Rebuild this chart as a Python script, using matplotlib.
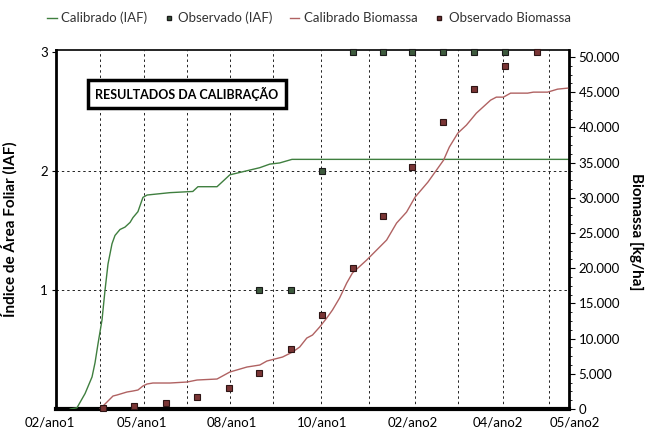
import matplotlib.pyplot as plt
from matplotlib.lines import Line2D
from matplotlib.ticker import FuncFormatter, MultipleLocator

plt.rcParams['font.family'] = ['Lato', 'DejaVu Sans']

# dias desde o inicio da simulacao
iaf_cal_dias = [10, 14.7, 20.4, 25.3, 27.4, 29.5, 32.3, 34.4, 36.5, 39.3, 41.4, 44.9, 48.4, 52,
                54, 57.5, 61, 63.9, 80, 96, 99.6, 113, 122, 129, 143, 150, 157, 165.6, 360]
iaf_cal = [0, 0.01, 0.13, 0.27, 0.39, 0.55, 0.75, 1.00, 1.22, 1.39, 1.46, 1.51, 1.53, 1.57,
           1.61, 1.66, 1.78, 1.80, 1.82, 1.83, 1.87, 1.87, 1.97, 1.99, 2.03, 2.06, 2.07, 2.10, 2.10]

bio_cal_dias = [30.9, 35.8, 40, 42.8, 49.8, 54, 57.5, 61, 63.9, 68, 80, 92, 99, 113, 122, 134,
                143, 148, 159, 166, 171, 176, 180, 185, 190, 194, 199, 204, 208, 218, 225, 232,
                239, 246, 252, 261, 267, 272, 276, 282, 288, 295, 305, 309, 314, 319, 331, 335,
                345, 352, 359]
bio_cal = [0, 994, 1846, 1988, 2414, 2556, 2698, 3266, 3550, 3692, 3692, 3834, 4118, 4260, 5254,
           5964, 6248, 6816, 7384, 8094, 8804, 10082, 10508, 11644, 12922, 14058, 15762, 17892,
           19312, 21158, 22578, 23998, 26412, 27974, 30104, 32234, 33938, 35358, 37204, 39192,
           40328, 42032, 43878, 44304, 44304, 44872, 44872, 45014, 45014, 45440, 45582]

iaf_obs_dias = [142.5, 165, 186.7, 208.4, 229.5, 250, 271.6, 293.3, 315]
iaf_obs = [1.0, 1.0, 2.0, 3.0, 3.0, 3.0, 3.0, 3.0, 3.0]

bio_obs_dias = [33, 54.7, 77.2, 99, 121.4, 142.5, 165, 186.7, 208.4, 229.5, 250, 271.6, 293.3,
                315, 337.5]
bio_obs = [150, 400, 850, 1700, 3000, 5100, 8500, 13350, 20000, 27400, 34400, 40750, 45450,
           48700, 50700]

meses_dias = [31, 62, 92, 122, 152, 186, 220, 252, 282, 314, 346]
rotulos_dias = [-4, 60, 123.5, 187, 250.5, 310, 364]
rotulos = ['02/ano1', '05/ano1', '08/ano1', '10/ano1', '02/ano2', '04/ano2', '05/ano2']

cor_iaf = '#3f7f3f'
cor_bio = '#b06262'

fig = plt.figure(figsize=(6.47, 4.28), dpi=100)
ax = fig.add_axes([56 / 647, 19 / 428, 513 / 647, 359 / 428])
ax2 = ax.twinx()

for d in meses_dias:
    ax.axvline(d, color='#222222', lw=0.7, ls=(0, (2.5, 3)), zorder=1)
for v in [1, 2]:
    ax.axhline(v, color='#222222', lw=0.7, ls=(0, (2.5, 3)), zorder=1)

ax.plot(iaf_cal_dias, iaf_cal, color=cor_iaf, lw=1.0, zorder=3)
ax.plot(iaf_obs_dias, iaf_obs, ls='none', marker='s', ms=4.5, mfc='#3d5a3d',
        mec='#1a1a1a', mew=0.8, clip_on=False, zorder=4)

ax2.plot(bio_cal_dias, bio_cal, color=cor_bio, lw=1.0, zorder=3)
ax2.plot(bio_obs_dias, bio_obs, ls='none', marker='s', ms=4.5, mfc='#7a3535',
         mec='#2e1515', mew=0.8, clip_on=False, zorder=4)

ax.set_xlim(0, 360)
ax.set_ylim(0, 3.02)
ax2.set_ylim(0, 51000)

ax.set_yticks([1, 2, 3])
ax.tick_params(axis='y', length=3, labelsize=9.5, pad=3)
ax.tick_params(axis='x', length=0, labelbottom=False)
ax2.yaxis.set_major_locator(MultipleLocator(5000))
ax2.yaxis.set_minor_locator(MultipleLocator(1250))
ax2.yaxis.set_major_formatter(FuncFormatter(lambda v, p: f"{int(v):,}".replace(",", ".")))
ax2.tick_params(axis='y', which='major', length=4, labelsize=9.5, pad=3)
ax2.tick_params(axis='y', which='minor', length=2)

for d, r in zip(rotulos_dias, rotulos):
    ax.text(d, -0.038, r, transform=ax.get_xaxis_transform(), ha='center', va='center',
            fontsize=9.5, clip_on=False)

for s in ['left', 'bottom', 'top', 'right']:
    ax2.spines[s].set_visible(False)
ax.spines['right'].set_visible(False)
ax2.spines['right'].set_visible(True)
ax2.spines['right'].set_linewidth(2)
ax.spines['left'].set_linewidth(2)
ax.spines['bottom'].set_linewidth(3)
ax.spines['top'].set_linewidth(1.2)

ax.set_ylabel('Índice de Área Foliar (IAF)', fontsize=11, fontweight='bold')
ax.yaxis.set_label_coords(-38 / 513, 0.5)
fig.text(636 / 647, 1 - 232 / 428, 'Biomassa [kg/ha]', rotation=270, ha='center', va='center',
         fontsize=11, fontweight='bold')

ax.text((187 - 56) / 513, (409 - 94) / 359, 'RESULTADOS DA CALIBRAÇÃO', transform=ax.transAxes,
        ha='center', va='center', fontsize=9, fontweight='bold', zorder=5,
        bbox=dict(boxstyle='square,pad=0.55', fc='white', ec='black', lw=2.5))

handles = [
    Line2D([], [], color=cor_iaf, lw=1.0),
    Line2D([], [], ls='none', marker='s', ms=3.5, mfc='#3d5a3d', mec='#1a1a1a'),
    Line2D([], [], color=cor_bio, lw=1.0),
    Line2D([], [], ls='none', marker='s', ms=3.5, mfc='#7a3535', mec='#2e1515'),
]
labels = ['Calibrado (IAF)', 'Observado (IAF)', 'Calibrado Biomassa', 'Observado Biomassa']
fig.legend(handles, labels, loc='center', bbox_to_anchor=(309 / 647, 1 - 18 / 428), ncol=4,
           frameon=False, fontsize=9.5, handlelength=0.7, handletextpad=0.35,
           columnspacing=1.3, labelcolor='#333333')

plt.savefig('out.png', dpi=100)
